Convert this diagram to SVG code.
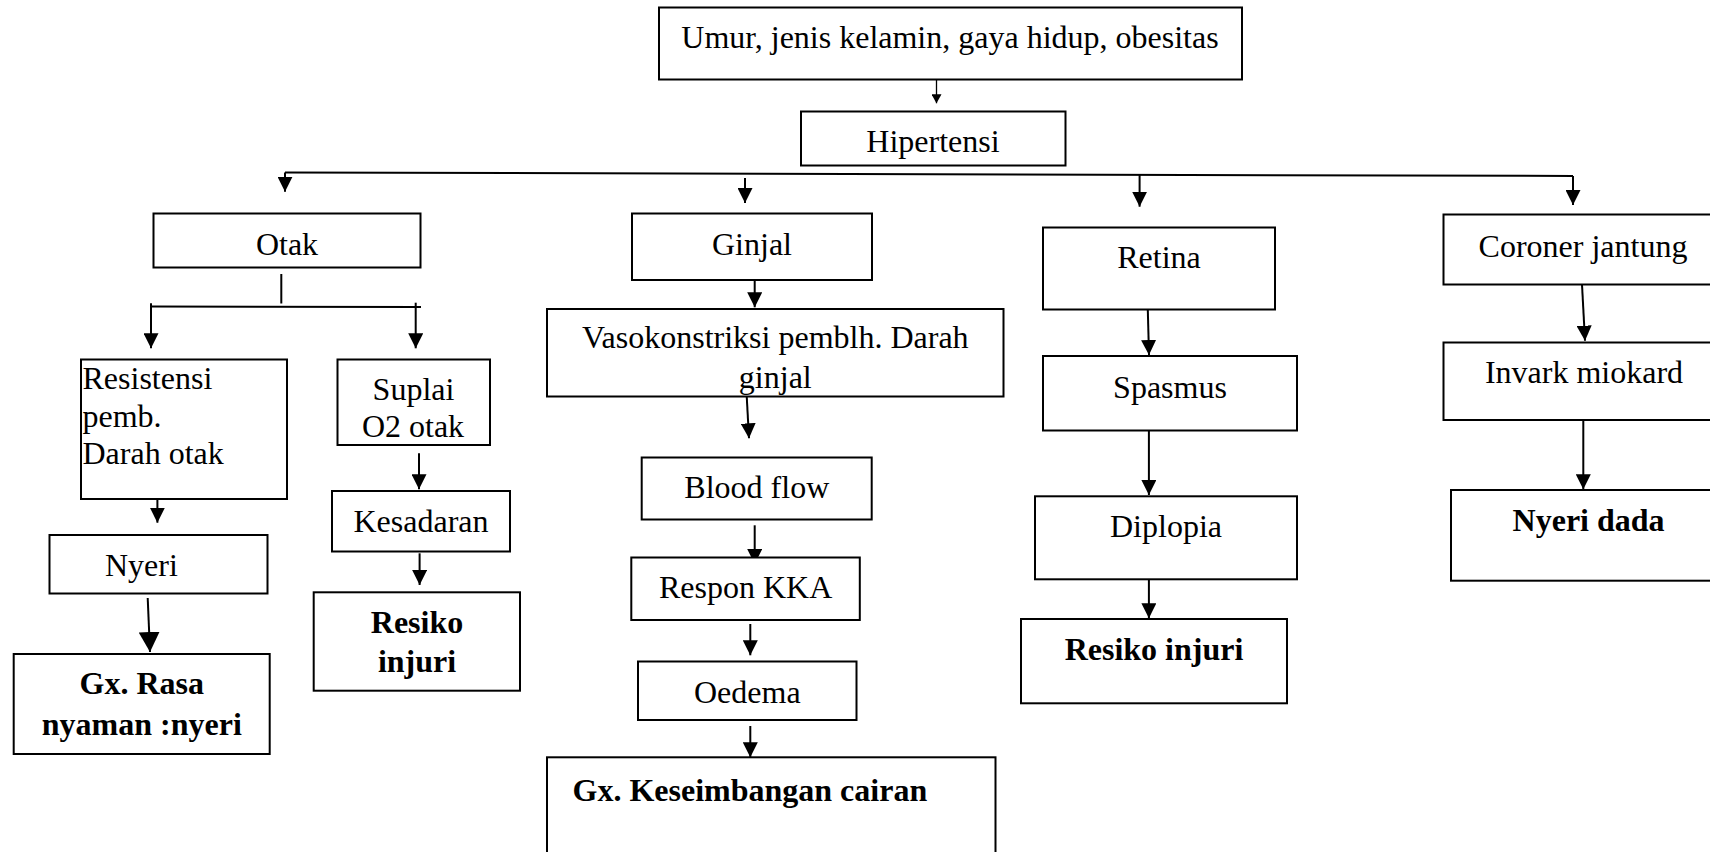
<svg xmlns="http://www.w3.org/2000/svg" width="1710" height="852" viewBox="0 0 1710 852">
<style>
.box{fill:#fff;stroke:#000;stroke-width:2}
.t{font-family:"Liberation Serif","Times New Roman",serif;font-size:32px;fill:#000;text-anchor:middle}
.l{text-anchor:start}
.b{font-weight:bold}
.c{fill:none;stroke:#000;stroke-width:2}
.thin{stroke-width:1.3}
</style>
<defs>
<marker id="a" markerUnits="userSpaceOnUse" markerWidth="15" markerHeight="15" refX="15" refY="7.5" orient="auto"><path d="M0,0 L15,7.5 L0,15 z" fill="#000"/></marker>
<marker id="aL" markerUnits="userSpaceOnUse" markerWidth="20" markerHeight="21" refX="20" refY="10.5" orient="auto"><path d="M0,0 L20,10.5 L0,21 z" fill="#000"/></marker>
<marker id="aS" markerUnits="userSpaceOnUse" markerWidth="9" markerHeight="10" refX="9" refY="5" orient="auto"><path d="M0,0 L9,5 L0,10 z" fill="#000"/></marker>
</defs>
<rect width="1710" height="852" fill="#fff"/>

<g id="connectors">
<path class="c thin" d="M936.5,79.5 V103.3" marker-end="url(#aS)"/>
<path class="c" d="M285,172.5 L1573,176"/>
<path class="c" d="M285,172.5 V191.7" marker-end="url(#a)"/>
<path class="c" d="M745,178 V203" marker-end="url(#a)"/>
<path class="c" d="M1139.6,175 V206.7" marker-end="url(#a)"/>
<path class="c" d="M1573,176 V205" marker-end="url(#a)"/>
<path class="c" d="M281.3,274 V303.5"/>
<path class="c" d="M151,306.5 L421,307"/>
<path class="c" d="M151,303.3 V348.3" marker-end="url(#a)"/>
<path class="c" d="M415.7,302.7 V348.3" marker-end="url(#a)"/>
<path class="c" d="M754.7,281 V307.3" marker-end="url(#a)"/>
<path class="c" d="M746.7,396 L749,438.3" marker-end="url(#a)"/>
<path class="c" d="M1147.8,309.5 L1149,355" marker-end="url(#a)"/>
<path class="c" d="M1582,284.5 L1585,340.7" marker-end="url(#a)"/>
<path class="c" d="M157.4,499 V522.7" marker-end="url(#a)"/>
<path class="c" d="M147.7,598 L150,652" marker-end="url(#aL)"/>
<path class="c" d="M419,453.3 V489.3" marker-end="url(#a)"/>
<path class="c" d="M419.6,553.3 V585" marker-end="url(#a)"/>
<path class="c" d="M754.7,525.3 V564" marker-end="url(#a)"/>
<path class="c" d="M750.3,624 V655.3" marker-end="url(#a)"/>
<path class="c" d="M750.3,726 V757.3" marker-end="url(#a)"/>
<path class="c" d="M1148.9,430.5 V495" marker-end="url(#a)"/>
<path class="c" d="M1148.9,579.3 V618.3" marker-end="url(#a)"/>
<path class="c" d="M1583.3,420 V489.3" marker-end="url(#a)"/>
</g>

<g id="n-faktor"><rect class="box" x="659" y="7.5" width="583" height="72"/><text class="t" x="950" y="48">Umur, jenis kelamin, gaya hidup, obesitas</text></g>
<g id="n-hipertensi"><rect class="box" x="801" y="111.5" width="264.5" height="54"/><text class="t" x="933" y="152">Hipertensi</text></g>
<g id="n-otak"><rect class="box" x="153.5" y="213.5" width="267" height="54"/><text class="t" x="287" y="255">Otak</text></g>
<g id="n-ginjal"><rect class="box" x="632" y="213.5" width="240" height="66.5"/><text class="t" x="752" y="255">Ginjal</text></g>
<g id="n-retina"><rect class="box" x="1043" y="227.5" width="232" height="82"/><text class="t" x="1159" y="268">Retina</text></g>
<g id="n-coroner"><rect class="box" x="1443.5" y="214.5" width="300" height="70"/><text class="t" x="1583" y="257">Coroner jantung</text></g>
<g id="n-resistensi"><rect class="box" x="81" y="359.5" width="206" height="139.5"/><text class="t l" x="82.5" y="389">Resistensi</text><text class="t l" x="82.5" y="427">pemb.</text><text class="t l" x="82.5" y="464">Darah otak</text></g>
<g id="n-suplai"><rect class="box" x="337.5" y="359.5" width="152.5" height="85.5"/><text class="t" x="413.5" y="400">Suplai</text><text class="t" x="413" y="437">O2 otak</text></g>
<g id="n-vaso"><rect class="box" x="547" y="309" width="456.5" height="87.5"/><text class="t" x="775.3" y="348">Vasokonstriksi pemblh. Darah</text><text class="t" x="775.3" y="388">ginjal</text></g>
<g id="n-spasmus"><rect class="box" x="1043" y="356" width="254" height="74.5"/><text class="t" x="1170" y="398">Spasmus</text></g>
<g id="n-invark"><rect class="box" x="1443.5" y="342.5" width="300" height="77.5"/><text class="t" x="1584" y="383">Invark miokard</text></g>
<g id="n-kesadaran"><rect class="box" x="332" y="491" width="178" height="60.5"/><text class="t" x="421" y="531.5">Kesadaran</text></g>
<g id="n-nyeri"><rect class="box" x="49.5" y="535" width="218" height="58.5"/><text class="t l" x="105" y="576">Nyeri</text></g>
<g id="n-blood"><rect class="box" x="641.7" y="457.5" width="230" height="62"/><text class="t" x="756.8" y="498">Blood flow</text></g>
<g id="n-respon"><rect class="box" x="631.3" y="557.5" width="228.5" height="62.5"/><text class="t" x="745.6" y="598">Respon KKA</text></g>
<g id="n-oedema"><rect class="box" x="638" y="661.5" width="218.5" height="58.5"/><text class="t" x="747.3" y="702.5">Oedema</text></g>
<g id="n-gx-cairan"><rect class="box" x="547" y="757.3" width="448.5" height="120"/><text class="t l b" x="572.5" y="801">Gx. Keseimbangan cairan</text></g>
<g id="n-gx-nyeri"><rect class="box" x="13.7" y="654" width="256" height="100"/><text class="t b" x="141.8" y="694">Gx. Rasa</text><text class="t b" x="141.8" y="735">nyaman :nyeri</text></g>
<g id="n-resiko1"><rect class="box" x="313.7" y="592.3" width="206.3" height="98.4"/><text class="t b" x="417" y="633">Resiko</text><text class="t b" x="417" y="672">injuri</text></g>
<g id="n-diplopia"><rect class="box" x="1035" y="496.3" width="262" height="83"/><text class="t" x="1166" y="537">Diplopia</text></g>
<g id="n-resiko2"><rect class="box" x="1021" y="619" width="266" height="84.3"/><text class="t b" x="1154" y="660">Resiko injuri</text></g>
<g id="n-nyeri-dada"><rect class="box" x="1451" y="490" width="300" height="90.7"/><text class="t b" x="1588.6" y="530.7">Nyeri dada</text></g>
</svg>
